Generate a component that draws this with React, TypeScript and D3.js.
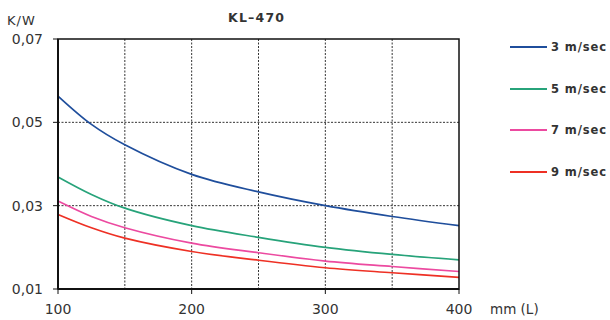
import React from 'react';
import * as d3 from 'd3';

const lengths = [100, 125, 150, 200, 250, 300, 350, 400];
const speedLabels = ['3 m/sec', '5 m/sec', '7 m/sec', '9 m/sec'];
const seriesColors = ['#1f4e9c', '#27a37a', '#ec4aa0', '#ee3024'];
const v3 = [0.0563, 0.0495, 0.0446, 0.0375, 0.0333, 0.0300, 0.0274, 0.0252];
const v5 = [0.0369, 0.0327, 0.0294, 0.0252, 0.0224, 0.0200, 0.0183, 0.0170];
const v7 = [0.0311, 0.0274, 0.0247, 0.0210, 0.0187, 0.0167, 0.0154, 0.0142];
const v9 = [0.0279, 0.0247, 0.0222, 0.0190, 0.0169, 0.0151, 0.0139, 0.0128];
const seriesValues = [v3, v5, v7, v9];
const xTicks = [100, 200, 300, 400];
const xGrid = [150, 200, 250, 300, 350];
const yTicks = [0.01, 0.03, 0.05, 0.07];
const yGrid = [0.03, 0.05];

const W = 610;
const H = 320;
const font = '"DejaVu Sans", Verdana, sans-serif';

export default function App() {
  const x = d3.scaleLinear().domain([100, 400]).range([58, 459]);
  const y = d3.scaleLinear().domain([0.01, 0.07]).range([289, 39]);
  const fmt = (v: number) => v.toFixed(2).replace('.', ',');

  const line = d3
    .line<number>()
    .x((_, i) => x(lengths[i]))
    .y(d => y(d))
    .curve(d3.curveCatmullRom.alpha(0.5));

  return (
    <svg
      width={W}
      height={H}
      style={{ position: 'absolute', left: 0, top: 0 }}
      fontFamily={font}
    >
      <rect width={W} height={H} fill="#fff" />

      {/* grid */}
      {xGrid.map(g => (
        <line key={'gx' + g} x1={x(g)} x2={x(g)} y1={y(0.07)} y2={y(0.01)}
          stroke="#333" strokeWidth={1} strokeDasharray="2,1.5" />
      ))}
      {yGrid.map(g => (
        <line key={'gy' + g} x1={x(100)} x2={x(400)} y1={y(g)} y2={y(g)}
          stroke="#333" strokeWidth={1} strokeDasharray="2,1.5" />
      ))}

      {/* series */}
      {seriesValues.map((vals, i) => (
        <path key={i} d={line(vals) || ''} fill="none" stroke={seriesColors[i]} strokeWidth={1.7} />
      ))}

      {/* frame */}
      <rect x={x(100)} y={y(0.07)} width={x(400) - x(100)} height={y(0.01) - y(0.07)}
        fill="none" stroke="#111" strokeWidth={1.5} />
      <line x1={x(100)} x2={x(100)} y1={y(0.07)} y2={y(0.01)} stroke="#111" strokeWidth={2} />
      <line x1={x(100)} x2={x(400)} y1={y(0.01)} y2={y(0.01)} stroke="#111" strokeWidth={2} />

      {/* y ticks */}
      {yTicks.map(t => (
        <g key={'yt' + t}>
          <line x1={x(100) - 5} x2={x(100)} y1={y(t)} y2={y(t)} stroke="#111" strokeWidth={1} />
          <text x={43} y={y(t) + 5} textAnchor="end" fontSize={14} fill="#333">{fmt(t)}</text>
        </g>
      ))}

      {/* x ticks */}
      {xTicks.map(t => (
        <g key={'xt' + t}>
          <line x1={x(t)} x2={x(t)} y1={y(0.01)} y2={y(0.01) + 5} stroke="#111" strokeWidth={1} />
          <text x={x(t)} y={314} textAnchor="middle" fontSize={14} fill="#333">{t}</text>
        </g>
      ))}

      <text x={7} y={25} fontSize={13} letterSpacing={1} fill="#333">K/W</text>
      <text x={490} y={314} fontSize={13.5} fill="#333">mm (L)</text>
      <text x={228} y={22} fontSize={12.5} letterSpacing={1.2} fontWeight="bold" fill="#333">KL–470</text>

      {/* legend */}
      {speedLabels.map((s, i) => {
        const ly = [47, 89, 130, 172][i];
        return (
          <g key={s}>
            <line x1={510} x2={547} y1={ly} y2={ly} stroke={seriesColors[i]} strokeWidth={2} />
            <text x={551} y={ly + 4} fontSize={11.5} letterSpacing={0.9} fontWeight="bold" fill="#333">{s}</text>
          </g>
        );
      })}
    </svg>
  );
}
